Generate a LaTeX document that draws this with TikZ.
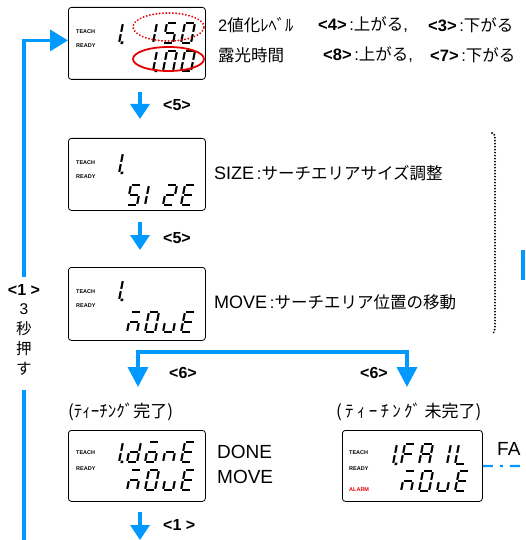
\documentclass[tikz,border=0pt]{standalone}
\usepackage{fontspec}
\setmainfont{Liberation Sans}
\newfontfamily\jp{Noto Sans CJK JP}
\usetikzlibrary{arrows.meta}
\definecolor{ablue}{RGB}{0,153,255}
\definecolor{ared}{RGB}{230,0,0}
% seven-segment pieces (cell 10 x 20)
\newcommand\SgA{\draw[seg] (1.4,20) -- (8.6,20);}
\newcommand\SgB{\draw[seg] (10,18.8) -- (10,11.2);}
\newcommand\SgC{\draw[seg] (10,8.8) -- (10,1.2);}
\newcommand\SgD{\draw[seg] (1.4,0) -- (8.6,0);}
\newcommand\SgE{\draw[seg] (0,1.2) -- (0,8.8);}
\newcommand\SgF{\draw[seg] (0,11.2) -- (0,18.8);}
\newcommand\SgG{\draw[seg] (1.4,10) -- (8.6,10);}
\newcommand\SgP{\fill (11.6,-1.1) rectangle (14.2,1.5);}
\newcommand\dg[3]{\begin{scope}[shift={(#1,-#2)},xslant=0.2]#3\end{scope}}
\newcommand\DOne{\SgB\SgC}
\newcommand\DZero{\SgA\SgB\SgC\SgD\SgE\SgF}
\newcommand\DFive{\SgA\SgF\SgG\SgC\SgD}
\newcommand\DE{\SgA\SgD\SgE\SgF\SgG}
\newcommand\DNbar{\SgA\SgC\SgE\SgG}
\newcommand\DU{\SgC\SgD\SgE}
\newcommand\Lt{\fontsize{18}{20}\selectfont}
\newcommand\Lb{\fontsize{16.5}{18}\selectfont\bfseries}
\newcommand\hk{\kern3.3pt}
\begin{document}
\begin{tikzpicture}[x=1pt,y=1pt,
  lcd/.style={draw, line width=0.8pt, rounded corners=3pt, minimum width=137pt,
    minimum height=72pt, inner sep=0pt, anchor=north west},
  seg/.style={line width=2.1pt},
  tiny/.style={font=\fontsize{5.5}{6}\selectfont\bfseries, inner sep=0pt, anchor=west},
  txt/.style={font=\fontsize{16.5}{18}\selectfont, inner sep=0pt, anchor=west},
  lbl/.style={font=\fontsize{16}{18}\selectfont\bfseries, inner sep=0pt},
  vtxt/.style={font=\fontsize{15.5}{16}\selectfont, inner sep=0pt},
  barrow/.style={ablue, line width=3.5pt, -{Triangle[width=19pt,length=15pt]}},
  splitarrow/.style={ablue, line width=3.5pt, line join=miter,
    {Triangle[width=20pt,length=20pt]}-{Triangle[width=20pt,length=20pt]}},
  looparrow/.style={ablue, line width=3.5pt, line join=miter, -{Triangle[width=21pt,length=18pt]}},
  ]
\useasboundingbox (0,0) rectangle (525,-540);

% LCD boxes
\node[lcd] (b1) at (68,-7) {};
\node[lcd] (b2) at (68,-138) {};
\node[lcd, minimum height=73pt] (b3) at (68,-267) {};
\node[lcd, minimum height=71pt] (b4) at (68,-430) {};
\node[lcd, minimum width=140pt, minimum height=71pt] (b5) at (342,-430) {};

% indicator labels
\node[tiny] (t1a) at (76,-32) {TEACH};
\node[tiny] (t1b) at (76,-46) {READY};
\node[tiny] (t2a) at (76,-163) {TEACH};
\node[tiny] (t2b) at (76,-177) {READY};
\node[tiny] (t3a) at (76,-292) {TEACH};
\node[tiny] (t3b) at (76,-306) {READY};
\node[tiny] (t4a) at (76,-453) {TEACH};
\node[tiny] (t4b) at (76,-469) {READY};
\node[tiny] (t5a) at (349,-453) {TEACH};
\node[tiny] (t5b) at (349,-469) {READY};
\node[tiny, text=ared] (t5c) at (349,-490) {ALARM};

% digits box 1
\dg{109}{43}{\DOne\SgP}
\dg{143}{43}{\DOne}
\dg{163}{43}{\DFive}
\dg{181}{43}{\DZero}
\dg{143}{71}{\DOne\SgP}
\dg{163}{71}{\DZero}
\dg{181}{71}{\DZero}
% box 2
\dg{109}{173}{\DOne\SgP}
\dg{127}{205}{\DFive}
\dg{145}{205}{\SgE\SgF}
\dg{163}{205}{\SgA\SgB\SgG\SgE\SgD}
\dg{181}{205}{\DE}
% box 3
\dg{109}{300}{\DOne\SgP}
\dg{127}{332}{\DNbar}
\dg{145}{332}{\DZero}
\dg{163}{332}{\DU}
\dg{181}{332}{\DE}
% box 4
\dg{109}{462}{\DOne\SgP}
\dg{127}{462}{\SgB\SgC\SgD\SgE\SgG}
\dg{145}{462}{\SgA\SgC\SgD\SgE\SgG}
\dg{163}{462}{\SgC\SgE\SgG}
\dg{181}{462}{\DE}
\dg{127}{490}{\DNbar}
\dg{145}{490}{\DZero}
\dg{163}{490}{\DU}
\dg{181}{490}{\DE}
% box 5
\dg{383}{464}{\DOne\SgP}
\dg{401}{464}{\SgA\SgE\SgF\SgG}
\dg{419}{464}{\SgA\SgB\SgC\SgE\SgF\SgG}
\dg{437}{464}{\DOne}
\dg{455}{464}{\SgD\SgE\SgF}
\dg{401}{491}{\DNbar}
\dg{419}{491}{\DZero}
\dg{437}{491}{\DU}
\dg{455}{491}{\DE}

% red ellipses
\draw[ared, line width=2pt, line cap=round, dash pattern=on 0.1pt off 3.2pt] (168.5,-27) ellipse (35.5pt and 14pt);
\draw[ared, line width=1.8pt] (168.5,-59) ellipse (35.5pt and 12pt);

% texts
\node[txt] (x1) at (218,-25) {2{\jp 値化ﾚﾍﾞﾙ}};
\node[txt] (x2) at (318,-25) {{\Lb <4>}\,:{\jp 上がる}, };
\node[txt] (x3) at (428,-25) {{\Lb <3>}\,:{\jp 下がる}};
\node[txt] (x4) at (218,-55) {\jp 露光時間};
\node[txt] (x5) at (323,-55) {{\Lb <8>}\,:{\jp 上がる}, };
\node[txt] (x6) at (430,-55) {{\Lb <7>}\,:{\jp 下がる}};
\node[txt] (x7) at (214,-173) {{\Lt SIZE}\,:{\jp サーチエリアサイズ調整}};
\node[txt] (x8) at (214,-302) {{\Lt MOVE}\,:{\jp サーチエリア位置の移動}};
\node[txt, font=\fontsize{17}{18}\selectfont] (x9) at (68,-412) {\jp (ﾃｨｰﾁﾝｸﾞ完了)};
\node[txt, font=\fontsize{17}{18}\selectfont] (x10) at (336,-412) {\jp (\hk ﾃ\hk ｨ\hk ｰ\hk ﾁ\hk ﾝ\hk ｸﾞ\hk 未完了)};
\node[txt, font=\fontsize{19}{20}\selectfont] (x11) at (217,-452) {DONE};
\node[txt, font=\fontsize{19}{20}\selectfont] (x12) at (217,-477) {MOVE};
\node[txt, font=\fontsize{19}{20}\selectfont] (x13) at (497,-449) {FA};

% step arrows
\coordinate (a1s) at (140,-92);  \coordinate (a1e) at (140,-119);
\coordinate (a2s) at (140,-222); \coordinate (a2e) at (140,-250);
\coordinate (a3s) at (140,-512); \coordinate (a3e) at (140,-540);
\draw[barrow] (a1s) -- (a1e);
\draw[barrow] (a2s) -- (a2e);
\draw[barrow] (a3s) -- (a3e);
\node[lbl, anchor=west] (l5a) at (163,-105) {<5>};
\node[lbl, anchor=west] (l5b) at (163,-238) {<5>};
\node[lbl, anchor=west] (l1) at (163,-525) {<1 >};

% split arrow
\coordinate (sl) at (138,-352); \coordinate (sr) at (407,-352);
\coordinate (tl) at (138,-387); \coordinate (tr) at (407,-387);
\draw[splitarrow] (tl) -- (sl) -- (sr) -- (tr);
\node[lbl] (l6a) at (183,-373) {<6>};
\node[lbl] (l6b) at (374,-373) {<6>};

% left loop
\coordinate (lpb) at (24,-540); \coordinate (lpm) at (24,-390);
\coordinate (lpt) at (24,-277);
\draw[ablue, line width=3.5pt] (lpb) -- (lpm);
\draw[looparrow] (lpt) |- ([yshift=3pt]b1.west);
\node[lbl] (v1) at (24,-290) {<1 >};
\node[vtxt] (v2) at (24,-309) {3};
\node[vtxt] (v3) at (24,-329) {\jp 秒};
\node[vtxt] (v4) at (24,-349) {\jp 押};
\node[vtxt] (v5) at (24,-369) {\jp す};

% dotted bracket
\draw[line width=2pt, line cap=round, dash pattern=on 0.1pt off 2.9pt]
  (492,-133) to[out=0,in=90] (495,-139) -- (495,-327) to[out=-90,in=0] (492,-333);
\fill[ablue] (521,-250) rectangle (525,-280);

% dash-dot link
\coordinate (ddend) at (525,-466);
\draw[ablue, line width=2.2pt, dash pattern=on 10pt off 7pt on 3pt off 7pt] (b5.east) -- (ddend);
\end{tikzpicture}
\end{document}
